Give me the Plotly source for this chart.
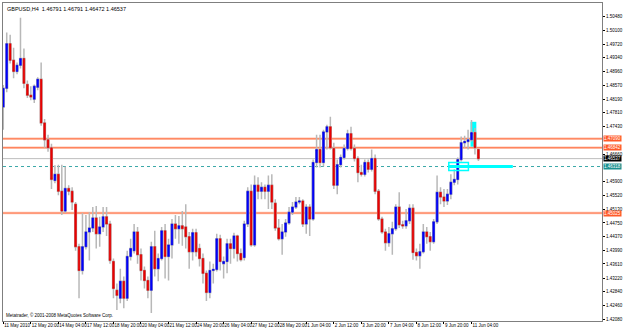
import plotly.graph_objects as go

# ---- data (GBPUSD H4) ----
opens = [1.4797,1.4849,1.4973,1.4927,1.4896,1.4913,1.4932,1.4860,1.4830,1.4819,
         1.4852,1.4874,1.4753,1.4706,1.4684,1.4593,1.4610,1.4563,1.4508,1.4571,
         1.4563,1.4527,1.4409,1.4343,1.4409,1.4450,1.4461,1.4489,1.4445,1.4464,
         1.4492,1.4472,1.4368,1.4288,1.4266,1.4313,1.4266,1.4382,1.4398,1.4450,
         1.4387,1.4343,1.4315,1.4288,1.4409,1.4348,1.4376,1.4453,1.4382,1.4414,
         1.4472,1.4459,1.4467,1.4464,1.4437,1.4395,1.4448,1.4404,1.4376,1.4335,
         1.4282,1.4343,1.4346,1.4431,1.4362,1.4368,1.4417,1.4404,1.4439,1.4390,
         1.4379,1.4472,1.4563,1.4414,1.4580,1.4563,1.4574,1.4563,1.4580,1.4530,
         1.4461,1.4431,1.4450,1.4475,1.4505,1.4519,1.4533,1.4536,1.4472,1.4519,
         1.4486,1.4643,1.4679,1.4643,1.4728,1.4742,1.4682,1.4580,1.4637,1.4657,
         1.4682,1.4723,1.4682,1.4654,1.4615,1.4610,1.4643,1.4624,1.4654,1.4563,
         1.4486,1.4450,1.4420,1.4445,1.4459,1.4519,1.4470,1.4467,1.4481,1.4516,
         1.4393,1.4384,1.4395,1.4450,1.4437,1.4423,1.4478,1.4560,1.4547,1.4536,
         1.4555,1.4588,1.4596,1.4651,1.4698,1.4701,1.4706,1.4726,1.46791]
highs = [1.4858,1.5004,1.4998,1.4962,1.4921,1.5045,1.4960,1.4871,1.4855,1.4860,
         1.4880,1.4921,1.4764,1.4720,1.4695,1.4635,1.4637,1.4637,1.4632,1.4580,
         1.4574,1.4533,1.4417,1.4503,1.4497,1.4505,1.4519,1.4522,1.4492,1.4519,
         1.4519,1.4481,1.4376,1.4307,1.4348,1.4326,1.4398,1.4431,1.4472,1.4464,
         1.4404,1.4354,1.4326,1.4423,1.4453,1.4390,1.4464,1.4472,1.4431,1.4486,
         1.4497,1.4494,1.4508,1.4527,1.4450,1.4459,1.4459,1.4417,1.4390,1.4343,
         1.4368,1.4362,1.4445,1.4442,1.4382,1.4431,1.4431,1.4448,1.4442,1.4404,
         1.4481,1.4574,1.4582,1.4607,1.4602,1.4588,1.4582,1.4607,1.4610,1.4541,
         1.4486,1.4472,1.4486,1.4519,1.4533,1.4547,1.4547,1.4541,1.4527,1.4527,
         1.4651,1.4720,1.4720,1.4734,1.4748,1.4770,1.4698,1.4651,1.4665,1.4693,
         1.4734,1.4742,1.4693,1.4660,1.4637,1.4651,1.4651,1.4679,1.4665,1.4569,
         1.4492,1.4459,1.4464,1.4478,1.4527,1.4560,1.4481,1.4514,1.4527,1.4527,
         1.4404,1.4417,1.4472,1.4464,1.4450,1.4486,1.4607,1.4574,1.4569,1.4569,
         1.4610,1.4624,1.4657,1.4715,1.4717,1.4734,1.4761,1.4739,1.46791]
lows = [1.4734,1.4838,1.4918,1.4877,1.4888,1.4904,1.4849,1.4822,1.4816,1.4808,
        1.4844,1.4745,1.4684,1.4673,1.4569,1.4585,1.4552,1.4497,1.4503,1.4552,
        1.4511,1.4398,1.4266,1.4332,1.4401,1.4371,1.4450,1.4404,1.4409,1.4450,
        1.4439,1.4362,1.4266,1.4233,1.4252,1.4238,1.4258,1.4371,1.4390,1.4362,
        1.4315,1.4293,1.4266,1.4225,1.4326,1.4313,1.4371,1.4321,1.4315,1.4376,
        1.4431,1.4417,1.4412,1.4404,1.4348,1.4371,1.4382,1.4354,1.4307,1.4258,
        1.4266,1.4307,1.4340,1.4343,1.4321,1.4335,1.4362,1.4376,1.4368,1.4368,
        1.4371,1.4464,1.4409,1.4409,1.4541,1.4541,1.4541,1.4514,1.4514,1.4453,
        1.4426,1.4387,1.4437,1.4470,1.4497,1.4514,1.4527,1.4464,1.4445,1.4439,
        1.4481,1.4629,1.4629,1.4632,1.4679,1.4679,1.4569,1.4555,1.4629,1.4651,
        1.4676,1.4676,1.4646,1.4588,1.4604,1.4604,1.4615,1.4618,1.4555,1.4481,
        1.4445,1.4398,1.4409,1.4387,1.4453,1.4461,1.4459,1.4459,1.4472,1.4373,
        1.4371,1.4348,1.4390,1.4417,1.4398,1.4417,1.4472,1.4527,1.4519,1.4525,
        1.4541,1.4580,1.4582,1.4646,1.4684,1.4679,1.4701,1.4665,1.46472]
closes = [1.4849,1.4973,1.4927,1.4896,1.4913,1.4932,1.4863,1.4830,1.4825,1.4855,
          1.4874,1.4753,1.4706,1.4684,1.4596,1.4610,1.4563,1.4508,1.4571,1.4563,
          1.4533,1.4409,1.4343,1.4409,1.4450,1.4461,1.4489,1.4445,1.4464,1.4492,
          1.4472,1.4371,1.4293,1.4274,1.4313,1.4266,1.4382,1.4404,1.4450,1.4387,
          1.4343,1.4315,1.4288,1.4409,1.4348,1.4376,1.4453,1.4382,1.4414,1.4472,
          1.4459,1.4467,1.4459,1.4437,1.4395,1.4448,1.4395,1.4376,1.4335,1.4282,
          1.4343,1.4346,1.4431,1.4368,1.4368,1.4417,1.4404,1.4439,1.4390,1.4373,
          1.4472,1.4563,1.4414,1.4580,1.4563,1.4574,1.4563,1.4580,1.4533,1.4461,
          1.4431,1.4450,1.4475,1.4505,1.4519,1.4533,1.4536,1.4472,1.4519,1.4486,
          1.4643,1.4679,1.4643,1.4728,1.4742,1.4684,1.4580,1.4637,1.4657,1.4682,
          1.4723,1.4682,1.4654,1.4615,1.4610,1.4643,1.4624,1.4654,1.4563,1.4486,
          1.4450,1.4420,1.4445,1.4459,1.4519,1.4470,1.4467,1.4481,1.4516,1.4393,
          1.4384,1.4395,1.4450,1.4437,1.4423,1.4478,1.4560,1.4547,1.4536,1.4555,
          1.4588,1.4596,1.4651,1.4698,1.4701,1.4706,1.4726,1.4684,1.46537]

time_labels = ["11 May 2010", "12 May 20:00", "14 May 04:00", "17 May 12:00",
               "18 May 20:00", "20 May 04:00", "21 May 12:00", "24 May 20:00",
               "26 May 04:00", "27 May 12:00", "28 May 20:00", "1 Jun 04:00",
               "2 Jun 12:00", "3 Jun 20:00", "7 Jun 04:00", "8 Jun 12:00",
               "9 Jun 20:00", "11 Jun 04:00"]
time_label_bars = [0, 8, 16, 24, 32, 40, 48, 56, 64, 72, 80, 88, 96, 104, 112, 120, 128, 136]

# price scale labels (1.46280 and 1.47050 are covered by the coloured level boxes)
price_ticks = [1.42080, 1.42460, 1.42840, 1.43220, 1.43610, 1.43990, 1.44370, 1.44750,
               1.45130, 1.45520, 1.45900, 1.46660, 1.47430, 1.47810,
               1.48190, 1.48570, 1.48960, 1.49340, 1.49720, 1.50100, 1.50480]

orange_levels = [1.47090, 1.46842, 1.45025]
bid_level = 1.46537
teal_level = 1.46318
title_text = "GBPUSD,H4  1.46791 1.46791 1.46472 1.46537"
credit_text = "Metatrader, \u00a9 2001-2008 MetaQuotes Software Corp."

# ---- figure ----
xs = list(range(len(opens)))
body_hi = [max(o, c) for o, c in zip(opens, closes)]
body_lo = [min(o, c) for o, c in zip(opens, closes)]

FONT = "Liberation Sans, Arial, sans-serif"
fig = go.Figure()

# gray shadows (full range)
fig.add_trace(go.Candlestick(
    x=xs, open=opens, high=highs, low=lows, close=closes,
    increasing=dict(line=dict(color="#b8b8b8", width=1.5), fillcolor="#c8c8c8"),
    decreasing=dict(line=dict(color="#b8b8b8", width=1.5), fillcolor="#c8c8c8"),
    whiskerwidth=0, hoverinfo="skip", showlegend=False))
# coloured bodies
fig.add_trace(go.Candlestick(
    x=xs, open=opens, high=body_hi, low=body_lo, close=closes,
    increasing=dict(line=dict(color="#0000e8", width=0.6), fillcolor="#0000ff"),
    decreasing=dict(line=dict(color="#d80000", width=0.6), fillcolor="#ee0000"),
    whiskerwidth=0, showlegend=False))

shapes = []
# orange horizontal levels
for lv in orange_levels:
    shapes.append(dict(type="line", xref="paper", x0=0, x1=1, yref="y", y0=lv, y1=lv,
                       line=dict(color="#ffc2ae", width=2.5), layer="below"))
    shapes.append(dict(type="line", xref="paper", x0=0, x1=1, yref="y", y0=lv, y1=lv,
                       line=dict(color="#ff7a50", width=1), layer="below"))
# bid line
shapes.append(dict(type="line", xref="paper", x0=0, x1=1, yref="y", y0=bid_level, y1=bid_level,
                   line=dict(color="#bdbdbd", width=1), layer="below"))
# teal dotted level
shapes.append(dict(type="line", xref="paper", x0=0, x1=1, yref="y", y0=teal_level, y1=teal_level,
                   line=dict(color="#3aa8a8", width=1, dash="dot"), layer="below"))
# cyan drawing objects
shapes.append(dict(type="rect", xref="x", yref="y", x0=135.7, x1=137.4, y0=1.4687, y1=1.4756,
                   fillcolor="#00ffff", line=dict(width=0), layer="below"))
shapes.append(dict(type="rect", xref="x", yref="y", x0=129.4, x1=135.1, y0=1.4621, y1=1.4643,
                   fillcolor="rgba(255,255,255,0)", line=dict(color="#00ffff", width=1.5)))
shapes.append(dict(type="line", xref="x", yref="y", x0=129.4, x1=148.0, y0=teal_level, y1=teal_level,
                   line=dict(color="#00ffff", width=3)))

annotations = [
    dict(text=title_text, xref="paper", yref="paper", x=0, y=1, xanchor="left", yanchor="top",
         xshift=2, yshift=-1, showarrow=False, font=dict(family=FONT, size=5.5, color="#000")),
    dict(text=credit_text, xref="paper", yref="paper", x=0, y=0, xanchor="left", yanchor="bottom",
         xshift=1, yshift=1, showarrow=False, font=dict(family=FONT, size=4.5, color="#000")),
]
label_boxes = [(orange_levels[0], "#ff5a2a", "#fff"), (orange_levels[1], "#ff5a2a", "#fff"),
               (orange_levels[2], "#ff5a2a", "#fff"), (bid_level, "#000000", "#fff"),
               (teal_level, "#1a9090", "#fff")]
for lv, bg, fc in label_boxes:
    annotations.append(dict(text=f"{lv:.5f}", xref="paper", yref="y", x=1, y=lv,
                            xanchor="left", yanchor="middle", xshift=1, showarrow=False,
                            bgcolor=bg, borderpad=0,
                            font=dict(family=FONT, size=4.5, color=fc)))

fig.update_layout(
    width=625, height=330,
    margin=dict(l=2, r=17, t=2, b=7),
    paper_bgcolor="white", plot_bgcolor="white",
    showlegend=False, boxgap=0.3,
    shapes=shapes, annotations=annotations,
    xaxis=dict(range=[-0.08, 173.9], rangeslider=dict(visible=False),
               tickmode="array", tickvals=time_label_bars, ticktext=time_labels,
               ticklabelposition="outside right", tickangle=0,
               ticks="outside", ticklen=2, tickcolor="#000",
               tickfont=dict(family=FONT, size=4.5, color="#000"),
               showgrid=False, zeroline=False,
               showline=True, linecolor="#7f7f7f", linewidth=1, mirror=True),
    yaxis=dict(range=[1.42026, 1.50861], side="right",
               tickmode="array", tickvals=price_ticks,
               ticktext=[f"{v:.5f}" for v in price_ticks],
               ticks="outside", ticklen=2, tickcolor="#000",
               tickfont=dict(family=FONT, size=4.5, color="#000"),
               showgrid=False, zeroline=False,
               showline=True, linecolor="#7f7f7f", linewidth=1, mirror=True),
)

fig.write_html("out.html")
